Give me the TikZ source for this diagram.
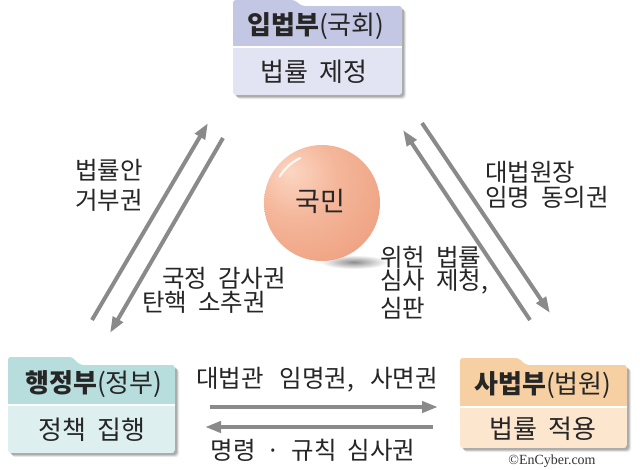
\documentclass[tikz,border=0pt]{standalone}
\usepackage{fontspec}
\newfontfamily\kr[WordSpace=2.0]{Noto Sans CJK KR}
\newfontfamily\cpy{Liberation Serif}
\usetikzlibrary{arrows.meta}
\definecolor{arrowgrey}{RGB}{138,138,138}
\definecolor{lavhead}{RGB}{196,199,228}
\definecolor{lavbody}{RGB}{227,228,243}
\definecolor{tealhead}{RGB}{183,221,221}
\definecolor{tealbody}{RGB}{221,239,239}
\definecolor{peachhead}{RGB}{246,208,162}
\definecolor{peachbody}{RGB}{252,231,206}
\definecolor{ballhi}{RGB}{252,214,194}
\definecolor{ballmid}{RGB}{244,182,154}
\definecolor{ballbase}{RGB}{237,156,122}
\definecolor{balledge}{RGB}{226,134,100}
\pgfdeclareradialshading{peachball}{\pgfpoint{-14bp}{14bp}}{%
  color(0bp)=(ballhi); color(18bp)=(ballmid); color(45bp)=(ballbase); color(62bp)=(balledge); color(90bp)=(balledge)}
\newcommand\branchbox[9]{%
  % #1 x left, #2 x right, #3 tab top, #4 tab end x, #5 main top, #6 header bottom, #7 bottom, #8 head colour, #9 body colour
  \foreach \o/\op in {4/0.08,3/0.12,2/0.16}{
    \fill[black,opacity=\op,rounded corners=3] (#1+\o,#5+\o) rectangle (#2+\o,#7+\o);
  }
  \begin{scope}
    \clip[rounded corners=3] (#1,#3) -- (#4,#3) -- (#4+8,#5) -- (#2,#5) -- (#2,#7) -- (#1,#7) -- cycle;
    \fill[#9] (#1,#3) rectangle (#2,#7);
    \fill[#8] (#1,#3) rectangle (#2,#6);
    \draw[white,line width=1.2] (#1,#6) -- (#2,#6);
  \end{scope}
}
\tikzset{
  label/.style={font=\kr\fontsize{24.5}{28}\selectfont, inner sep=0pt, text=black!85},
  boxtitle/.style={font=\kr\fontsize{26}{30}\selectfont, inner sep=0pt, text=black!85},
  conn/.style={draw=arrowgrey, line width=4, -{Triangle[length=16pt,width=11pt]}},
}
\begin{document}
\begin{tikzpicture}[x=1pt,y=-1pt]
\useasboundingbox (0,0) rectangle (640,469);
\fill[white] (0,0) rectangle (640,469);

% boxes
\branchbox{233}{402}{0}{294}{6}{47}{95}{lavhead}{lavbody}
\branchbox{8}{175}{357}{72}{365}{405}{453}{tealhead}{tealbody}
\branchbox{460}{627}{358}{518}{365}{407}{448}{peachhead}{peachbody}

\node[boxtitle] (legT) at (316,26) {\textbf{입법부}(국회)};
\node[boxtitle] (legB) at (314,72) {법률 제정};
\node[boxtitle] (exeT) at (94,384) {\textbf{행정부}(정부)};
\node[boxtitle] (exeB) at (92,430) {정책 집행};
\node[boxtitle] (judT) at (543,385) {\textbf{사법부}(법원)};
\node[boxtitle] (judB) at (543,429) {법률 적용};

% ball shadow
\shade[inner color=black!45, outer color=white] (354,262) ellipse (34 and 7);
% ball
\shade[shading=peachball] (322,203) circle (58);
\draw[white, line width=2.2, opacity=0.85, line cap=round] (322,203) ++(212:50) arc (212:244:50);
\node[font=\kr\fontsize{27}{30}\selectfont, inner sep=0pt, text=black!85] (people) at (320,201) {국민};

% arrow endpoints
\coordinate (l1s) at (92,320);  \coordinate (l1e) at (208,123);
\coordinate (l2s) at (223,138); \coordinate (l2e) at (110,333);
\coordinate (r1s) at (530,320); \coordinate (r1e) at (403,130);
\coordinate (r2s) at (422,123); \coordinate (r2e) at (550,313);
\coordinate (b1s) at (210,407); \coordinate (b1e) at (438,407);
\coordinate (b2s) at (433,427); \coordinate (b2e) at (205,427);

\draw[conn] (l1s) -- (l1e);
\draw[conn] (l2s) -- (l2e);
\draw[conn] (r1s) -- (r1e);
\draw[conn] (r2s) -- (r2e);
\draw[conn] (b1s) -- (b1e);
\draw[conn] (b2s) -- (b2e);

% labels
\node[label, anchor=west] (veto1) at (75,170) {법률안};
\node[label, anchor=west] (veto2) at (75,200) {거부권};
\node[label, anchor=west] (aud1) at (162,278) {국정 감사권};
\node[label, anchor=west] (aud2) at (142,302) {탄핵 소추권};
\node[label, anchor=west] (chief1) at (485,172) {대법원장};
\node[label, anchor=west] (chief2) at (485,197) {임명 동의권};
\node[label, anchor=west] (rev1) at (380,257) {위헌 법률};
\node[label, anchor=west] (rev2) at (380,282) {심사 제청,};
\node[label, anchor=west] (rev3) at (380,308) {심판};
\node[label] (appt) at (317,380) {대법관\hspace{16pt}임명권,\hspace{16pt}사면권};
\node[label] (order) at (313,450) {명령 · 규칙 심사권};

\node[font=\cpy\fontsize{14}{16}\selectfont, anchor=south, inner sep=0pt, text=black!80] (copy) at (552,468) {©EnCyber.com};
\end{tikzpicture}
\end{document}
